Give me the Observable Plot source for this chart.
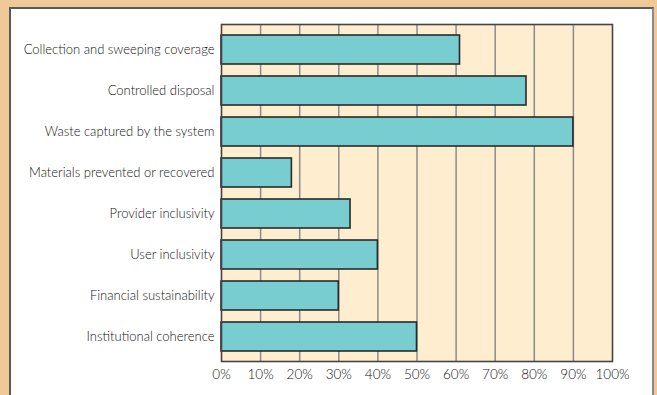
<!DOCTYPE html>
<html>
<head>
<meta charset="utf-8">
<script src="https://cdn.jsdelivr.net/npm/d3@7"></script>
<script src="https://cdn.jsdelivr.net/npm/@observablehq/plot@0.6"></script>
<style>
  html, body { margin: 0; padding: 0; }
  #wrap { position: relative; width: 657px; height: 395px; background: #F0C998; overflow: hidden; }
  #panel { position: absolute; left: 9px; top: 7px; width: 641px; height: 420px; background: #fff;
           border-left: 2px solid #5a5a5a; border-top: 2px solid #5a5a5a; border-right: 2px solid #8a8a8a; }
  #chart { position: absolute; left: 0; top: 0; }
  #chart svg { background: transparent; }
  #chart svg text { font-weight: 300; }
</style>
</head>
<body>
<div id="wrap"><div id="panel"></div><div id="chart"></div></div>
<script>
const categories = [
  "Collection and sweeping coverage",
  "Controlled disposal",
  "Waste captured by the system",
  "Materials prevented or recovered",
  "Provider inclusivity",
  "User inclusivity",
  "Financial sustainability",
  "Institutional coherence"
];
const values = [61, 78, 90, 18, 33, 40, 30, 50];
const tickValues = [0, 10, 20, 30, 40, 50, 60, 70, 80, 90, 100];
const gridValues = [10, 20, 30, 40, 50, 60, 70, 80, 90];

const data = categories.map((c, i) => ({category: c, value: values[i]}));

const chart = Plot.plot({
  width: 657,
  height: 395,
  marginLeft: 221,
  marginRight: 45,
  marginTop: 24,
  marginBottom: 34,
  style: {background: "transparent", fontFamily: "Lato, 'Open Sans', sans-serif", fontSize: "13px", color: "#111"},
  x: {domain: [0, 100], range: [221, 612]},
  y: {domain: categories, range: [22.5, 364.3], padding: 0.296},
  marks: [
    Plot.frame({fill: "#FFEDD0", stroke: null}),
    Plot.ruleX(gridValues, {stroke: "#8c8c8c", strokeWidth: 1.5}),
    Plot.barX(data, {x: "value", y: "category", fill: "#78CDD0", stroke: "#2a2a2a", strokeWidth: 1.6}),
    Plot.frame({stroke: "#444", strokeWidth: 1.6}),
    Plot.axisX(tickValues, {tickSize: 0, tickPadding: 8, tickFormat: d => d + "%", fill: "#111", fontSize: 13.5, label: null}),
    Plot.axisY({tickSize: 0, tickPadding: 7, fill: "#111", fontSize: 13, label: null})
  ]
});
document.getElementById("chart").appendChild(chart);
</script>
</body>
</html>
